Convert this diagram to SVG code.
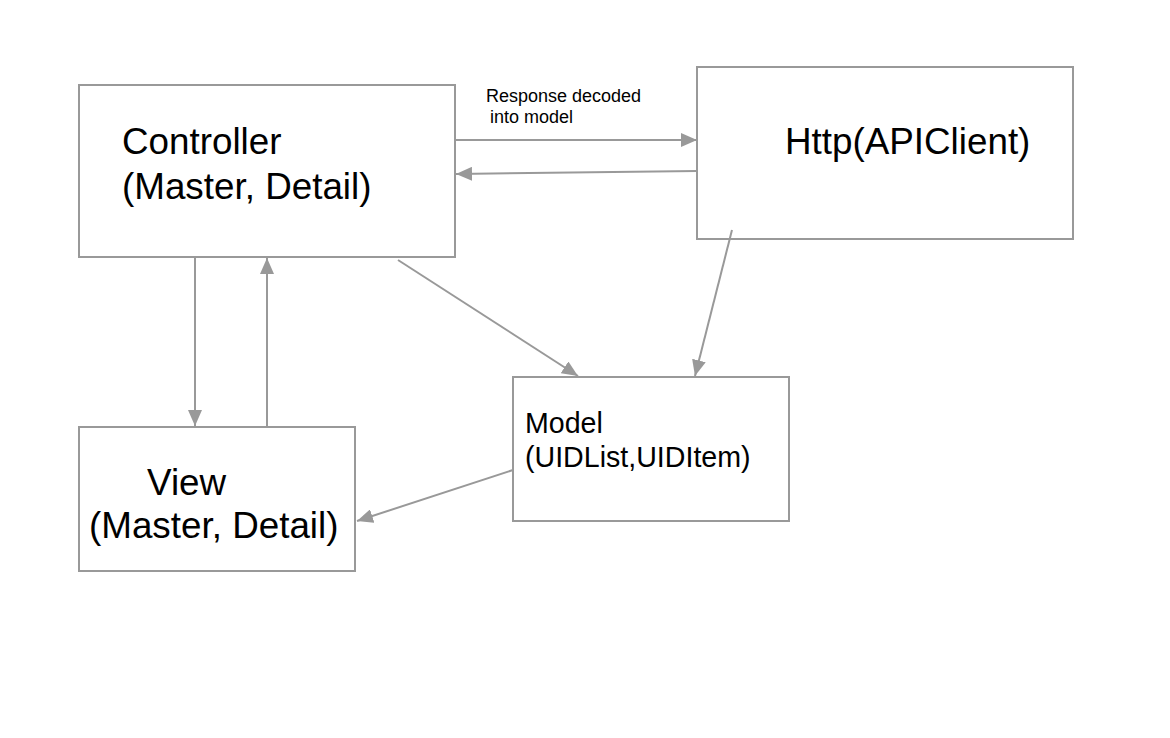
<svg xmlns="http://www.w3.org/2000/svg" width="1170" height="738" viewBox="0 0 1170 738">
<style>
.box{fill:#fff;stroke:#999;stroke-width:2}
.t{font-family:"Liberation Sans",Arial,Helvetica,sans-serif;fill:#000}
.big{font-size:36.8px}
.mid{font-size:28.6px}
.sm{font-size:18px}
.c{stroke:#999;stroke-width:2;fill:none;marker-end:url(#ah)}
</style>
<defs>
<marker id="ah" markerUnits="userSpaceOnUse" markerWidth="16" markerHeight="14" refX="16" refY="7" orient="auto">
<path d="M0,0 L16,7 L0,14 Z" fill="#999"/>
</marker>
</defs>
<rect width="1170" height="738" fill="#fff"/>
<g id="controller">
<rect class="box" x="79" y="85" width="376" height="172"/>
<text class="t big" x="122" y="154">Controller</text>
<text class="t big" x="122" y="199">(Master, Detail)</text>
</g>
<g id="http">
<rect class="box" x="697" y="67" width="376" height="172"/>
<text class="t big" x="785" y="154">Http(APIClient)</text>
</g>
<g id="view">
<rect class="box" x="79" y="427" width="276" height="144"/>
<text class="t big" x="147" y="495">View</text>
<text class="t big" x="89" y="538">(Master, Detail)</text>
</g>
<g id="model">
<rect class="box" x="513" y="377" width="276" height="144"/>
<text class="t mid" x="525" y="433">Model</text>
<text class="t mid" x="525" y="467">(UIDList,UIDItem)</text>
</g>
<g id="connectors">
<line class="c" x1="456" y1="140" x2="697" y2="140"/>
<line class="c" x1="697" y1="171" x2="456" y2="174"/>
<line class="c" x1="195" y1="258" x2="195" y2="426"/>
<line class="c" x1="267" y1="426" x2="267" y2="258"/>
<line class="c" x1="398" y1="260" x2="578" y2="376"/>
<line class="c" x1="732" y1="230" x2="695" y2="376"/>
<line class="c" x1="513" y1="470" x2="357" y2="521"/>
<text class="t sm" x="486" y="102">Response decoded</text>
<text class="t sm" x="490" y="123">into model</text>
</g>
</svg>
